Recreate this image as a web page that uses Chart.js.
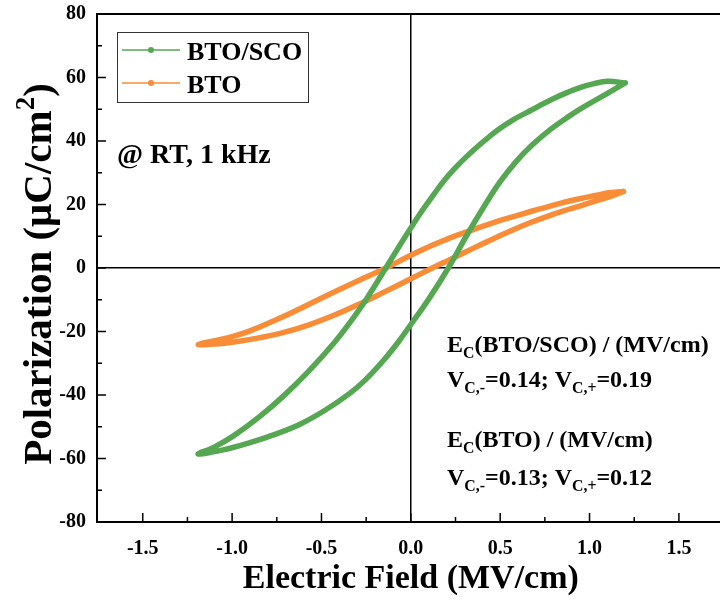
<!DOCTYPE html>
<html>
<head>
<meta charset="utf-8">
<script src="https://cdn.jsdelivr.net/npm/chart.js@4.4.1/dist/chart.umd.min.js"></script>
<style>
  html, body { margin: 0; padding: 0; background: #fff; overflow: hidden; }
  #wrap { width: 720px; height: 604px; }
</style>
</head>
<body>
<div id="wrap"><canvas id="loopChart" width="720" height="604"></canvas></div>
<script>
// P-E loops (E in MV/cm, P in uC/cm2)
// upper branch runs from the +E tip to the -E tip, lower branch back again
const scoUpE  = [1.20, 1.10, 1.02, 0.95, 0.88, 0.80, 0.72, 0.65, 0.57, 0.50, 0.44, 0.38, 0.31, 0.25, 0.19, 0.13, 0.06, 0.00,
                 -0.07, -0.14, -0.25, -0.34, -0.43, -0.57, -0.71, -0.85, -0.99, -1.10, -1.19];
const scoUpP  = [58.3, 58.8, 58.0, 56.9, 55.4, 53.4, 51.1, 49.0, 46.6, 44.0, 41.4, 38.6, 35.0, 31.6, 27.8, 23.3, 17.8, 12.6,
                 6.4, 0.0, -9.9, -17.1, -23.6, -32.4, -40.2, -47.0, -52.8, -56.4, -58.6];
const scoLowE = [-1.05, -0.90, -0.76, -0.62, -0.48, -0.34, -0.25, -0.15, -0.07, 0.00, 0.10, 0.21, 0.31, 0.42, 0.50,
                 0.59, 0.68, 0.78, 0.88, 0.97, 1.10];
const scoLowP = [-57.3, -55.0, -52.4, -49.2, -44.8, -39.4, -35.0, -28.9, -23.3, -17.8, -9.8, 0.0, 10.0, 20.3, 27.2,
                 33.6, 38.8, 43.6, 47.6, 50.8, 55.0];

const btoUpE  = [1.19, 1.10, 1.04, 0.95, 0.85, 0.76, 0.67, 0.57, 0.48, 0.35, 0.22, 0.11, 0.00,
                 -0.14, -0.24, -0.34, -0.53, -0.71, -0.90, -1.00, -1.09, -1.19];
const btoUpP  = [24.1, 23.6, 22.9, 21.9, 20.6, 19.2, 17.8, 16.1, 14.6, 12.1, 9.5, 6.9, 4.0,
                 0.0, -2.6, -5.2, -10.3, -15.2, -19.8, -21.6, -22.8, -24.1];
const btoLowE = [-1.09, -0.99, -0.85, -0.71, -0.57, -0.43, -0.29, -0.15, 0.00, 0.12, 0.22, 0.30, 0.39,
                 0.48, 0.57, 0.66, 0.76, 0.85, 0.95, 1.04, 1.13];
const btoLowP = [-23.9, -23.3, -22.0, -20.3, -17.9, -14.9, -11.4, -7.6, -3.4, 0.0, 2.7, 4.9, 7.3,
                 9.7, 12.0, 14.1, 16.2, 17.9, 19.6, 21.2, 22.8];

const seriesNames = ["BTO/SCO", "BTO"];
const seriesColors = ["#55a751", "#f98c36"];

const xTicks = [-1.5, -1.0, -0.5, 0.0, 0.5, 1.0, 1.5];
const yTicks = [-80, -60, -40, -20, 0, 20, 40, 60, 80];
const xMinorStep = 0.25;
const yMinorStep = 10;

const FONT = '"Liberation Serif", "Times New Roman", serif';

// text pieces: [text, "" | "sub" | "sup"]
const conditionText = [["@ RT, 1 kHz", ""]];
const noteLines = [
    [["E", ""], ["C", "sub"], ["(BTO/SCO) / (MV/cm)", ""]],
    [["V", ""], ["C,-", "sub"], ["=0.14; V", ""], ["C,+", "sub"], ["=0.19", ""]],
    [["E", ""], ["C", "sub"], ["(BTO) / (MV/cm)", ""]],
    [["V", ""], ["C,-", "sub"], ["=0.13; V", ""], ["C,+", "sub"], ["=0.12", ""]]
];
const yTitle = [["Polarization (\u03bcC/cm", ""], ["2", "sup"], [")", ""]];
const xTitle = [["Electric Field (MV/cm)", ""]];

function toPoints(upE, upP, lowE, lowP) {
    const pts = upE.map((e, i) => ({ x: e, y: upP[i] }));
    lowE.forEach((e, i) => pts.push({ x: e, y: lowP[i] }));
    pts.push({ x: upE[0], y: upP[0] }); // close the loop at the tip
    return pts;
}

function richWidth(ctx, parts, size) {
    let w = 0;
    parts.forEach(([t, mode]) => {
        ctx.font = `bold ${mode ? size * 0.66 : size}px ${FONT}`;
        w += ctx.measureText(t).width;
    });
    return w;
}

function drawRich(ctx, parts, x, y, size) {
    let cx = x;
    parts.forEach(([t, mode]) => {
        const s = mode ? size * 0.66 : size;
        ctx.font = `bold ${s}px ${FONT}`;
        let dy = 0;
        if (mode === "sub") dy = size * 0.26;
        if (mode === "sup") dy = -size * 0.42;
        ctx.fillText(t, cx, y + dy);
        cx += ctx.measureText(t).width;
    });
}

const decorPlugin = {
    id: "decor",
    afterDraw(chart) {
        const ctx = chart.ctx;
        const a = chart.chartArea;
        const xs = chart.scales.x, ys = chart.scales.y;
        ctx.save();

        // top frame line
        ctx.strokeStyle = "#000";
        ctx.lineWidth = 2;
        ctx.beginPath();
        ctx.moveTo(a.left, a.top);
        ctx.lineTo(a.right, a.top);
        ctx.stroke();

        // inward ticks, major and minor
        ctx.lineWidth = 1.5;
        ctx.beginPath();
        for (let v = xTicks[0] - xMinorStep; v <= xs.max; v += xMinorStep) {
            const px = xs.getPixelForValue(v);
            if (px <= a.left + 2 || px >= a.right) continue;
            const major = xTicks.some(t => Math.abs(t - v) < 1e-6);
            ctx.moveTo(px, a.bottom);
            ctx.lineTo(px, a.bottom - (major ? 9 : 5));
        }
        for (let v = ys.min + yMinorStep; v < ys.max; v += yMinorStep) {
            const py = ys.getPixelForValue(v);
            const major = yTicks.includes(v);
            ctx.moveTo(a.left, py);
            ctx.lineTo(a.left + (major ? 9 : 5), py);
        }
        ctx.stroke();

        // legend box (only the two main loops)
        ctx.lineWidth = 1;
        ctx.strokeStyle = "#333";
        ctx.strokeRect(117.5, 32.5, 191, 70);
        ctx.textBaseline = "alphabetic";
        chart.data.datasets.slice(0, seriesNames.length).forEach((ds, i) => {
            const ly = 50 + i * 33;
            ctx.strokeStyle = ds.borderColor;
            ctx.lineWidth = 1.5;
            ctx.beginPath();
            ctx.moveTo(122, ly);
            ctx.lineTo(180, ly);
            ctx.stroke();
            ctx.fillStyle = ds.borderColor;
            ctx.beginPath();
            ctx.arc(151, ly, 3, 0, Math.PI * 2);
            ctx.fill();
            ctx.fillStyle = "#000";
            ctx.font = `bold 26px ${FONT}`;
            ctx.fillText(ds.label, 187, ly + 10);
        });

        ctx.fillStyle = "#000";
        drawRich(ctx, conditionText, 117, 163, 28);

        // coercive field notes
        const noteY = [352, 387, 447, 485];
        noteLines.forEach((parts, i) => drawRich(ctx, parts, 447, noteY[i], 24));

        // axis titles
        const tSize = 34;
        const xw = richWidth(ctx, xTitle, tSize);
        drawRich(ctx, xTitle, xs.getPixelForValue(0) - xw / 2, 588, tSize);

        const ySize = 41;
        const yw = richWidth(ctx, yTitle, ySize);
        ctx.translate(51, 274);
        ctx.rotate(-Math.PI / 2);
        drawRich(ctx, yTitle, -yw / 2, 0, ySize);
        ctx.restore();
    }
};

const zeroLine = c => (c.tick && c.tick.value === 0 ? "#000" : "rgba(0,0,0,0)");

const loops = [
    toPoints(scoUpE, scoUpP, scoLowE, scoLowP),
    toPoints(btoUpE, btoUpP, btoLowE, btoLowP)
];

const lineBase = {
    showLine: true,
    fill: false,
    pointRadius: 0,
    tension: 0.4,
    borderCapStyle: "round",
    borderJoinStyle: "round"
};

// thick coloured band, then a faint dotted centre like the hollow markers
const datasets = loops.map((pts, i) => Object.assign({}, lineBase, {
    label: seriesNames[i],
    data: pts,
    borderColor: seriesColors[i],
    backgroundColor: seriesColors[i],
    borderWidth: 5.5
})).concat(loops.map((pts, i) => Object.assign({}, lineBase, {
    label: seriesNames[i] + " markers",
    data: pts,
    borderColor: "rgba(255,255,255,0.45)",
    borderWidth: 1.2,
    borderDash: [1.5, 2],
    borderCapStyle: "butt"
})));

const ctx = document.getElementById("loopChart").getContext("2d");

new Chart(ctx, {
    type: "scatter",
    data: { datasets: datasets },
    options: {
        responsive: false,
        animation: false,
        devicePixelRatio: 1,
        layout: { padding: { top: 14, right: 0, left: 0, bottom: 0 } },
        plugins: {
            legend: { display: false },
            tooltip: { enabled: false }
        },
        scales: {
            x: {
                type: "linear",
                min: -1.756,
                max: 1.73,
                afterBuildTicks: s => { s.ticks = xTicks.map(v => ({ value: v })); },
                afterFit: s => { s.height = 82; s.paddingLeft = 0; s.paddingRight = 0; },
                grid: { color: zeroLine, lineWidth: 1.5, drawTicks: false },
                border: { display: true, color: "#000", width: 2 },
                ticks: {
                    padding: 15,
                    color: "#000",
                    font: { family: FONT, size: 20, weight: "bold" },
                    callback: v => Number(v).toFixed(1)
                }
            },
            y: {
                type: "linear",
                min: -80,
                max: 80,
                afterBuildTicks: s => { s.ticks = yTicks.map(v => ({ value: v })); },
                afterFit: s => { s.width = 97; s.paddingTop = 0; s.paddingBottom = 0; },
                grid: { color: zeroLine, lineWidth: 1.5, drawTicks: false },
                border: { display: true, color: "#000", width: 2 },
                ticks: {
                    padding: 11,
                    color: "#000",
                    font: { family: FONT, size: 20, weight: "bold" },
                    callback: v => String(v)
                }
            }
        }
    },
    plugins: [decorPlugin]
});
</script>
</body>
</html>
